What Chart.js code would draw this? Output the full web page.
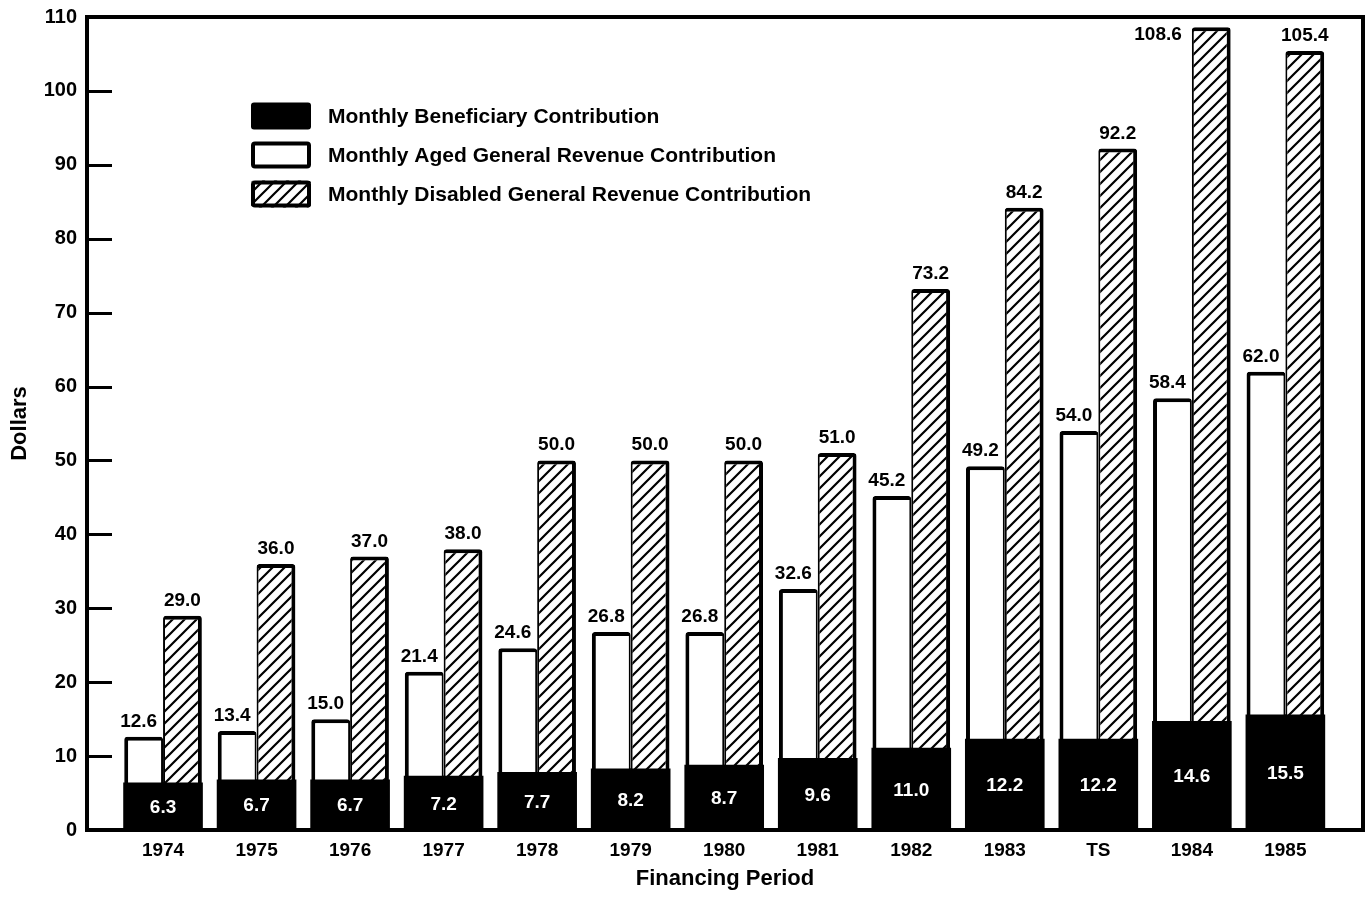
<!DOCTYPE html>
<html>
<head>
<meta charset="utf-8">
<title>Monthly Contributions by Financing Period</title>
<script src="https://cdn.jsdelivr.net/npm/chart.js@4.4.1/dist/chart.umd.min.js"></script>
<style>
  html, body { margin: 0; padding: 0; background: #fff; }
  canvas { display: block; }
</style>
</head>
<body>
<canvas id="chart" width="1370" height="901"></canvas>
<script>
// Financing periods shown along the x axis
const categories = ['1974', '1975', '1976', '1977', '1978', '1979', '1980', '1981', '1982', '1983', 'TS', '1984', '1985'];

// Monthly beneficiary contribution (black base shared by both bars)
const beneficiary = [6.3, 6.7, 6.7, 7.2, 7.7, 8.2, 8.7, 9.6, 11.0, 12.2, 12.2, 14.6, 15.5];

// Total per aged enrollee (beneficiary + aged general revenue)
const agedTotal = [12.6, 13.4, 15.0, 21.4, 24.6, 26.8, 26.8, 32.6, 45.2, 49.2, 54.0, 58.4, 62.0];

// Total per disabled enrollee (beneficiary + disabled general revenue)
const disabledTotal = [29.0, 36.0, 37.0, 38.0, 50.0, 50.0, 50.0, 51.0, 73.2, 84.2, 92.2, 108.6, 105.4];

// Y axis ticks
const yTicks = [0, 10, 20, 30, 40, 50, 60, 70, 80, 90, 100, 110];

const seriesNames = [
  'Monthly Beneficiary Contribution',
  'Monthly Aged General Revenue Contribution',
  'Monthly Disabled General Revenue Contribution'
];

const FONT = "'Liberation Sans', Arial, Helvetica, sans-serif";

// Diagonal hatch used for the disabled general revenue portion
function makeHatch() {
  const s = 12;
  const c = document.createElement('canvas');
  c.width = s; c.height = s;
  const g = c.getContext('2d');
  g.fillStyle = '#fff';
  g.fillRect(0, 0, s, s);
  g.strokeStyle = '#000';
  g.lineWidth = 2.2;
  g.beginPath();
  g.moveTo(-1, s + 1); g.lineTo(s + 1, -1);
  g.moveTo(-s / 2 - 1, s / 2 + 1); g.lineTo(s / 2 + 1, -s / 2 - 1);
  g.moveTo(s / 2 - 1, s * 1.5 + 1); g.lineTo(s * 1.5 + 1, s / 2 - 1);
  g.stroke();
  return g.createPattern(c, 'repeat');
}
const hatch = makeHatch();

const pts = arr => arr.map((v, i) => ({ x: i, y: v }));
const agedGR = agedTotal.map((t, i) => +(t - beneficiary[i]).toFixed(1));
const disabledGR = disabledTotal.map((t, i) => +(t - beneficiary[i]).toFixed(1));

// Outer frame and inward-pointing y tick marks
const framePlugin = {
  id: 'frame',
  afterDatasetsDraw(chart) {
    const { ctx, chartArea: a } = chart;
    const y = chart.scales.y;
    ctx.save();
    ctx.strokeStyle = '#000';
    ctx.lineWidth = 3;
    ctx.beginPath();
    yTicks.forEach(v => {
      if (v === yTicks[0] || v === yTicks[yTicks.length - 1]) return;
      const py = Math.round(y.getPixelForValue(v)) + 0.5;
      ctx.moveTo(a.left, py);
      ctx.lineTo(a.left + 25, py);
    });
    ctx.stroke();
    ctx.lineWidth = 4;
    ctx.strokeRect(a.left, a.top, a.right - a.left, a.bottom - a.top);
    ctx.restore();
  }
};

// Value labels: totals above each bar, beneficiary share inside the black base
const valueLabels = {
  id: 'valueLabels',
  afterDatasetsDraw(chart) {
    const ctx = chart.ctx;
    const base = chart.getDatasetMeta(0).data;
    const base2 = chart.getDatasetMeta(2).data;
    const aged = chart.getDatasetMeta(1).data;
    const dis = chart.getDatasetMeta(3).data;
    ctx.save();
    ctx.font = `bold 19px ${FONT}`;
    categories.forEach((c, i) => {
      const l = base[i], r = base2[i];
      ctx.fillStyle = '#fff';
      ctx.textAlign = 'center';
      ctx.textBaseline = 'middle';
      ctx.fillText(beneficiary[i].toFixed(1), (l.x + r.x) / 2, (l.y + l.base) / 2 + 1);

      ctx.fillStyle = '#000';
      ctx.textBaseline = 'alphabetic';
      const a = aged[i];
      ctx.fillText(agedTotal[i].toFixed(1), a.x - 5, a.y - 10);

      const d = dis[i];
      if (d.y - 10 - 14 < chart.chartArea.top) {
        ctx.textAlign = 'right';
        ctx.textBaseline = 'middle';
        ctx.fillText(disabledTotal[i].toFixed(1), d.x - d.width / 2 - 10, d.y + 7);
      } else {
        ctx.fillText(disabledTotal[i].toFixed(1), d.x, d.y - 10);
      }
    });
    ctx.restore();
  }
};

// Key placed inside the plot area
const keyPlugin = {
  id: 'key',
  afterDraw(chart) {
    const { ctx, chartArea: a } = chart;
    const x = a.left + 164, w = 60, h = 27;
    const rows = [a.top + 99, a.top + 138, a.top + 177];
    const fills = ['#000', '#fff', hatch];
    ctx.save();
    rows.forEach((cy, i) => {
      const top = cy - h / 2;
      ctx.fillStyle = fills[i];
      ctx.beginPath();
      ctx.roundRect(x, top, w, h, 3);
      ctx.fill();
      if (i > 0) {
        ctx.strokeStyle = '#000';
        ctx.lineWidth = 4;
        ctx.beginPath();
        ctx.roundRect(x + 2, top + 2, w - 4, h - 4, 2);
        ctx.stroke();
      }
      ctx.fillStyle = '#000';
      ctx.font = `bold 21px ${FONT}`;
      ctx.textAlign = 'left';
      ctx.textBaseline = 'middle';
      ctx.fillText(seriesNames[i], x + 77, cy + 1);
    });
    ctx.restore();
  }
};

new Chart(document.getElementById('chart'), {
  type: 'bar',
  data: {
    datasets: [
      { label: seriesNames[0], data: pts(beneficiary), stack: 'aged',
        backgroundColor: '#000', borderWidth: 0, inflateAmount: 1 },
      { label: seriesNames[1], data: pts(agedGR), stack: 'aged',
        backgroundColor: '#fff', borderColor: '#000',
        borderWidth: { top: 4, left: 4, right: 2, bottom: 0 }, borderRadius: 3 },
      { label: seriesNames[0], data: pts(beneficiary), stack: 'disabled',
        backgroundColor: '#000', borderWidth: 0, inflateAmount: 1 },
      { label: seriesNames[2], data: pts(disabledGR), stack: 'disabled',
        backgroundColor: hatch, borderColor: '#000',
        borderWidth: { top: 4, left: 2, right: 4, bottom: 0 }, borderRadius: 3 }
    ]
  },
  options: {
    responsive: false,
    devicePixelRatio: 1,
    animation: false,
    categoryPercentage: 0.83,
    barPercentage: 1.0,
    layout: { padding: { top: 17, right: 7, bottom: 0, left: 0 } },
    plugins: {
      legend: { display: false },
      tooltip: { enabled: false }
    },
    scales: {
      x: {
        type: 'linear',
        offset: false,
        min: -0.813,
        max: 12.83,
        afterBuildTicks: s => { s.ticks = categories.map((_, i) => ({ value: i })); },
        afterFit: s => { s.height = 71; s.paddingLeft = 0; s.paddingRight = 0; },
        grid: { display: false, drawTicks: false, offset: false },
        border: { display: false },
        ticks: {
          callback: v => categories[v] ?? '',
          autoSkip: false, maxRotation: 0, padding: 9, color: '#000',
          font: { family: FONT, size: 19, weight: 'bold' }
        },
        title: {
          display: true, text: 'Financing Period', color: '#000',
          font: { family: FONT, size: 22, weight: 'bold' },
          padding: { top: 0, bottom: 9 }
        }
      },
      y: {
        stacked: true,
        min: 0,
        max: 110,
        afterBuildTicks: s => { s.ticks = yTicks.map(v => ({ value: v })); },
        afterFit: s => { s.width = 87; s.paddingTop = 0; s.paddingBottom = 0; },
        grid: { display: false, drawTicks: false },
        border: { display: false },
        ticks: {
          padding: 10, color: '#000',
          font: { family: FONT, size: 20, weight: 'bold' }
        },
        title: {
          display: true, text: 'Dollars', color: '#000',
          font: { family: FONT, size: 22, weight: 'bold' },
          padding: { top: 7, bottom: 0 }
        }
      }
    }
  },
  plugins: [framePlugin, valueLabels, keyPlugin]
});
</script>
</body>
</html>
